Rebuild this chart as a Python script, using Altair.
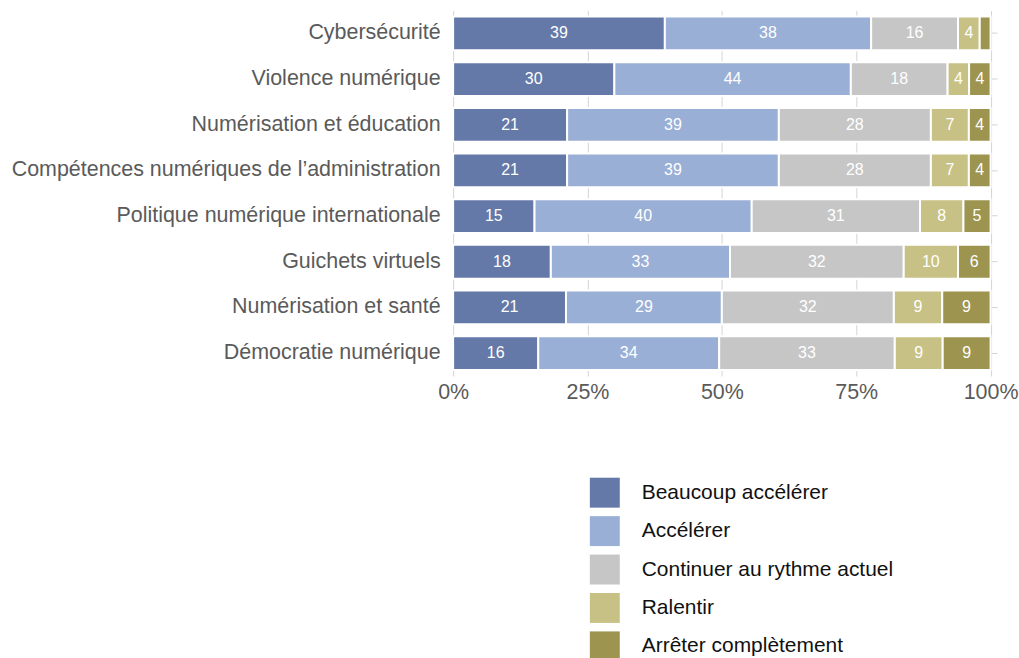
import altair as alt
import pandas as pd

categories = [
    "Cybersécurité",
    "Violence numérique",
    "Numérisation et éducation",
    "Compétences numériques de l’administration",
    "Politique numérique internationale",
    "Guichets virtuels",
    "Numérisation et santé",
    "Démocratie numérique",
]
responses = [
    "Beaucoup accélérer",
    "Accélérer",
    "Continuer au rythme actuel",
    "Ralentir",
    "Arrêter complètement",
]
beaucoup = [39, 30, 21, 21, 15, 18, 21, 16]
accelerer = [38, 44, 39, 39, 40, 33, 29, 34]
continuer = [16, 18, 28, 28, 31, 32, 32, 33]
ralentir = [4, 4, 7, 7, 8, 10, 9, 9]
arreter = [2, 4, 4, 4, 5, 6, 9, 9]
colors = ["#6479a8", "#9aafd6", "#c6c6c6", "#c8c185", "#9c944f"]

series = [beaucoup, accelerer, continuer, ralentir, arreter]
rows = []
for ri, (resp, vals) in enumerate(zip(responses, series)):
    for cat, v in zip(categories, vals):
        rows.append({"cat": cat, "resp": resp, "order": ri, "value": v})
df = pd.DataFrame(rows)

FONT = "Liberation Sans"

base = alt.Chart(df).transform_stack(
    stack="value",
    groupby=["cat"],
    as_=["x0", "x1"],
    offset="normalize",
    sort=[alt.SortField("order", order="ascending")],
).transform_calculate(
    mid="(datum.x0 + datum.x1) / 2",
    lbl="datum.value >= 3 ? datum.value : ''",
)

yenc = alt.Y(
    "cat:N",
    sort=categories,
    title=None,
    scale=alt.Scale(paddingInner=0.26, paddingOuter=0.13),
    axis=alt.Axis(
        ticks=False,
        domain=False,
        labelFontSize=21.5,
        labelFont=FONT,
        labelColor="#5a5a5a",
        labelPadding=13,
        labelLimit=600,
        grid=True,
        bandPosition=0.5,
        gridColor="#d4d4d4",
    ),
)

xscale = alt.Scale(domain=[0, 1.012], nice=False, zero=False)

bars = base.mark_bar(stroke="white", strokeWidth=2).encode(
    x=alt.X(
        "x0:Q",
        scale=xscale,
        title=None,
        axis=alt.Axis(
            values=[0, 0.25, 0.5, 0.75, 1.0],
            format=".0%",
            ticks=False,
            domain=False,
            labelFontSize=21.5,
            labelFont=FONT,
            labelColor="#5a5a5a",
            labelPadding=6,
            gridColor="#d4d4d4",
            labelFlush=False,
        ),
    ),
    x2="x1:Q",
    y=yenc,
    color=alt.Color(
        "resp:N",
        sort=responses,
        scale=alt.Scale(domain=responses, range=colors),
        title=None,
        legend=alt.Legend(
            orient="none",
            legendX=137,
            legendY=468,
            direction="vertical",
            symbolType="square",
            symbolSize=900,
            symbolStrokeWidth=0,
            symbolOpacity=1,
            labelFontSize=21,
            labelFont=FONT,
            labelColor="#111111",
            labelOffset=22,
            labelLimit=500,
            rowPadding=8.5,
            padding=0,
        ),
    ),
)

text = base.mark_text(color="white", fontSize=16, font=FONT).encode(
    x=alt.X("mid:Q", scale=xscale),
    y=alt.Y("cat:N", sort=categories),
    text="lbl:N",
)

chart = (
    alt.layer(bars, text)
    .properties(
        width=545,
        height=366,
        padding={"left": 10, "top": 10, "right": 0, "bottom": 0},
        background="white",
    )
    .configure_view(stroke=None)
)

chart.save("out.html", embed_options={"renderer": "svg", "actions": False})
